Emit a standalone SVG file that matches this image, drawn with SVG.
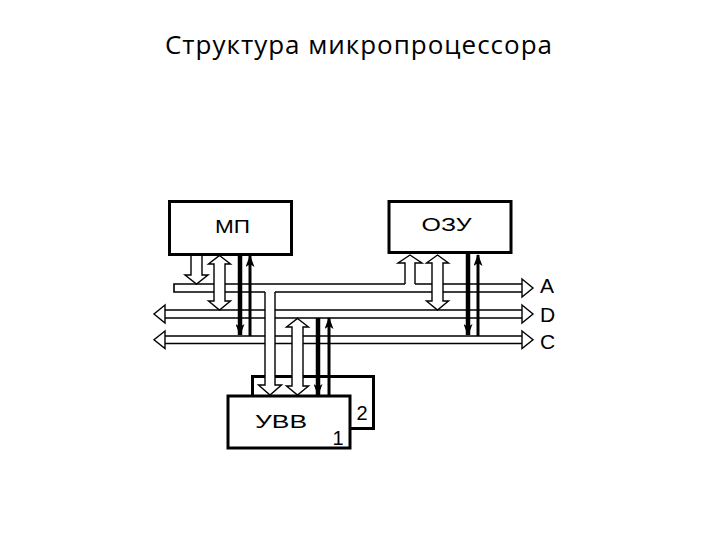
<svg xmlns="http://www.w3.org/2000/svg" width="720" height="540" viewBox="0 0 720 540">
<style>
.box{fill:#fff;stroke:#000;stroke-width:3}
.bus{fill:none;stroke:#000;stroke-width:1.6}
.head{fill:#fff;stroke:#000;stroke-width:1.4;stroke-linejoin:miter}
.hol{fill:#fff;stroke:#000;stroke-width:1.4}
.thick{stroke:#000;stroke-width:4.5;fill:none}
.thin{stroke:#000;stroke-width:3;fill:none}
.lbl{font-family:"Liberation Sans",Arial,sans-serif;font-size:18px;fill:#000}
.num{font-family:"Liberation Sans",Arial,sans-serif;font-size:20px;fill:#000}
.bl{font-family:"Liberation Sans",Arial,sans-serif;font-size:21px;fill:#000}
.title{font-family:"Open Sans","Noto Sans",sans-serif;font-size:26px;fill:#000}
</style>
<defs>
<marker id="ah" markerUnits="userSpaceOnUse" markerWidth="12" markerHeight="9" refX="11" refY="4.5" orient="auto">
<path d="M0,0 L12,4.5 L0,9 L3,4.5 Z" fill="#000"/>
</marker>
</defs>
<rect width="720" height="540" fill="#fff"/>
<text class="title" x="358.5" y="54" text-anchor="middle" textLength="387">Структура микропроцессора</text>

<g id="connectors">
<g id="buses">
<path class="bus" d="M405,284 L174,284 L174,292 L265,292 M275,292 L522,292 M415,284 L522,284"/>
<path class="head" d="M522,279 L533,288 L522,297 Z"/>
<path class="bus" d="M165,310 L522,310 M165,318 L522,318"/>
<path class="head" d="M522,305 L533,314 L522,323 Z"/>
<path class="head" d="M165,305 L154,314 L165,323 Z"/>
<path class="bus" d="M165,336 L522,336 M165,343.5 L522,343.5"/>
<path class="head" d="M522,331 L533,339.75 L522,348.5 Z"/>
<path class="head" d="M165,331 L154,339.75 L165,348.5 Z"/>
</g>
</g>

<g id="node-uvv2">
<rect class="box" x="252.5" y="376.5" width="121" height="52"/>
<text class="num" x="362" y="420" text-anchor="middle">2</text>
</g>

<g id="links">
<path class="hol" d="M191,255 L191,275 L185,275 L196.5,284 L208,275 L202,275 L202,255"/>
<path class="hol" d="M219.5,255.5 L230.5,264 L225,264 L225,301 L230.5,301 L219.5,310 L208.5,301 L214,301 L214,264 L208.5,264 Z"/>
<path class="hol" d="M405,284 L405,263 L398,263 L410,255 L422,263 L415,263 L415,284"/>
<path class="hol" d="M437.5,255 L448.5,263 L443,263 L443,301 L448.5,301 L437.5,310 L426.5,301 L432,301 L432,263 L426.5,263 Z"/>
<path class="hol" d="M265,292 L265,385 L258.5,385 L270,395 L281.5,385 L275,385 L275,292"/>
<path class="hol" d="M297.5,318.5 L308.5,327 L303,327 L303,386 L308.5,386 L297.5,395 L286.5,386 L292,386 L292,327 L286.5,327 Z"/>
<line class="thick" x1="240" y1="255" x2="240" y2="335" marker-end="url(#ah)"/>
<line class="thin" x1="250" y1="336" x2="250" y2="256" marker-end="url(#ah)"/>
<line class="thick" x1="468" y1="253" x2="468" y2="335" marker-end="url(#ah)"/>
<line class="thin" x1="478" y1="336" x2="478" y2="255" marker-end="url(#ah)"/>
<line class="thick" x1="318" y1="318" x2="318" y2="395" marker-end="url(#ah)"/>
<line class="thin" x1="329" y1="396" x2="329" y2="318" marker-end="url(#ah)"/>
</g>

<g id="node-mp">
<rect class="box" x="169.5" y="201.5" width="122" height="53"/>
<text class="lbl" x="232.5" y="233" text-anchor="middle" textLength="35" lengthAdjust="spacingAndGlyphs">МП</text>
</g>
<g id="node-ozu">
<rect class="box" x="389" y="201.5" width="122" height="51"/>
<text class="lbl" x="446.5" y="231" text-anchor="middle" textLength="50" lengthAdjust="spacingAndGlyphs">ОЗУ</text>
</g>
<g id="node-uvv1">
<rect class="box" x="228" y="396" width="122" height="52"/>
<text class="lbl" x="281" y="428" text-anchor="middle" textLength="52" lengthAdjust="spacingAndGlyphs">УВВ</text>
<text class="num" x="338" y="445" text-anchor="middle">1</text>
</g>

<g id="bus-labels">
<text class="bl" x="540" y="293">A</text>
<text class="bl" x="540" y="322">D</text>
<text class="bl" x="540" y="349">C</text>
</g>
</svg>
